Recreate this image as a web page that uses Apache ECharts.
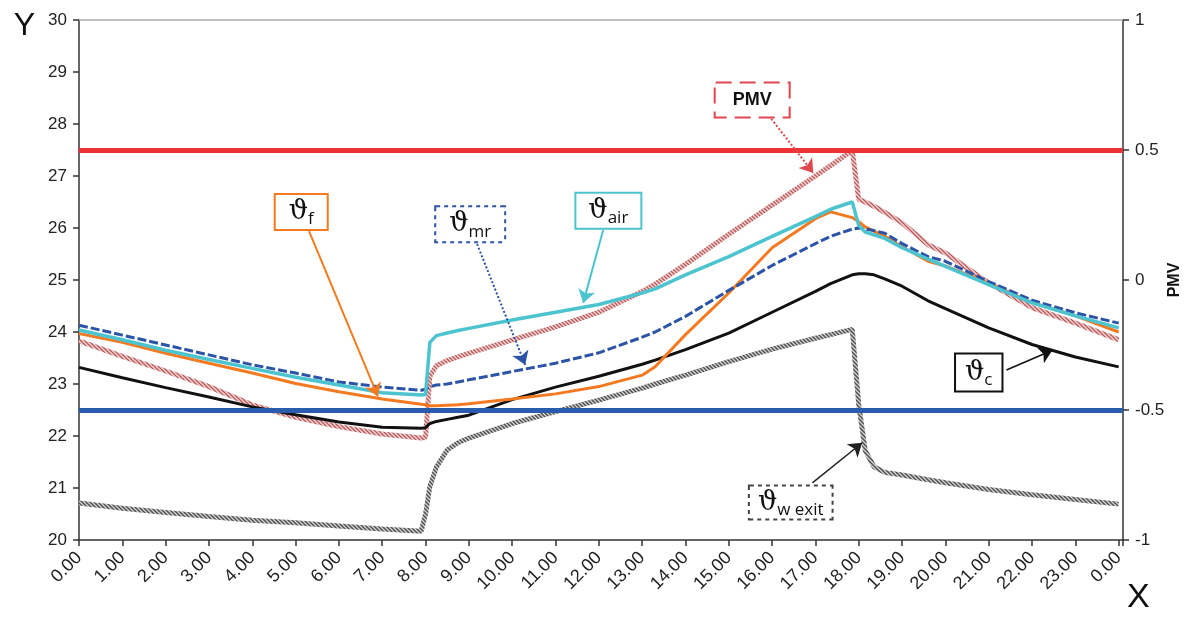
<!DOCTYPE html>
<html>
<head>
<meta charset="utf-8">
<script src="https://cdn.jsdelivr.net/npm/echarts@6/dist/echarts.min.js"></script>
<style>
  html, body { margin: 0; background: #fff; }
  #chart { width: 1190px; height: 619px; }
</style>
</head>
<body>
<div id="chart"></div>
<script>
  // sample times (hours of the day)
  var hours = [0, 1, 2, 3, 4, 5, 6, 7, 7.9, 8.0, 8.1, 8.25, 8.5, 8.75, 9, 10, 11, 12, 13, 13.3, 14, 15, 16, 17,
    17.35, 17.85, 18.0, 18.15, 18.35, 18.6, 19, 19.6, 20, 21, 22, 23, 24];
  var tickLabels = ['0.00', '1.00', '2.00', '3.00', '4.00', '5.00', '6.00', '7.00', '8.00', '9.00', '10.00', '11.00',
    '12.00', '13.00', '14.00', '15.00', '16.00', '17.00', '18.00', '19.00', '20.00', '21.00', '22.00', '23.00', '0.00'];

  var thetaC = [23.32, 23.12, 22.93, 22.75, 22.56, 22.41, 22.27, 22.17, 22.15, 22.16, 22.24, 22.28, 22.32, 22.36, 22.4,
    22.7, 22.94, 23.15, 23.38, 23.46, 23.66, 23.98, 24.38, 24.78, 24.93, 25.1, 25.12, 25.12, 25.1, 25.02, 24.88, 24.6,
    24.45, 24.08, 23.76, 23.52, 23.33];
  var thetaF = [23.97, 23.8, 23.59, 23.4, 23.21, 23.01, 22.85, 22.71, 22.61, 22.6, 22.58, 22.58, 22.59, 22.6, 22.62,
    22.71, 22.81, 22.95, 23.17, 23.33, 23.95, 24.75, 25.62, 26.18, 26.31, 26.2, 26.12, 26.02, 25.94, 25.84, 25.64, 25.36,
    25.27, 24.94, 24.57, 24.31, 24.0];
  var thetaAir = [24.04, 23.85, 23.65, 23.47, 23.3, 23.13, 22.98, 22.83, 22.79, 22.8, 23.8, 23.93, 23.98, 24.03, 24.07,
    24.23, 24.38, 24.53, 24.75, 24.83, 25.1, 25.45, 25.84, 26.22, 26.36, 26.5, 26.05, 25.92, 25.87, 25.8, 25.62, 25.4,
    25.26, 24.91, 24.56, 24.31, 24.08];
  var thetaMr = [24.13, 23.94, 23.75, 23.56, 23.37, 23.21, 23.04, 22.94, 22.88, 22.9, 22.95, 22.98, 23.0, 23.04, 23.08,
    23.24, 23.4, 23.6, 23.9, 24.0, 24.3, 24.8, 25.28, 25.7, 25.84, 25.98, 26.0, 25.98, 25.95, 25.9, 25.7, 25.45,
    25.36, 24.97, 24.61, 24.37, 24.17];
  var thetaWExit = [20.71, 20.61, 20.53, 20.45, 20.38, 20.33, 20.27, 20.21, 20.17, 20.5, 21.03, 21.4, 21.73, 21.87, 21.96,
    22.24, 22.47, 22.69, 22.92, 23.0, 23.17, 23.43, 23.67, 23.88, 23.95, 24.05, 22.6, 21.72, 21.41, 21.3, 21.25, 21.16,
    21.1, 20.97, 20.87, 20.78, 20.69];
  var pmv = [-0.234, -0.294, -0.35, -0.41, -0.48, -0.528, -0.564, -0.592, -0.608, -0.606, -0.37, -0.33, -0.31, -0.296,
    -0.282, -0.23, -0.18, -0.124, -0.044, -0.016, 0.06, 0.176, 0.288, 0.4, 0.44, 0.498, 0.31, 0.3, 0.284, 0.26, 0.22,
    0.136, 0.104, -0.012, -0.106, -0.166, -0.23];
  var pmvLimits = [0.5, -0.5];

  function pairs(vals) {
    return hours.map(function (h, i) { return [h, vals[i]]; });
  }

  // small hatched texture for the two "patterned" lines
  function hatch(base, dark, light) {
    var c = document.createElement('canvas');
    c.width = 4; c.height = 4;
    var g = c.getContext('2d');
    g.fillStyle = base; g.fillRect(0, 0, 4, 4);
    for (var i = 0; i < 4; i++) {
      g.fillStyle = dark; g.fillRect(i, i % 4, 1, 1);
      g.fillStyle = light; g.fillRect(i, (i + 2) % 4, 1, 1);
    }
    return { image: c, repeat: 'repeat' };
  }

  var thetaFont = '"DejaVu Serif", serif';
  var subFont = '"Open Sans", "Noto Sans", sans-serif';

  function theta(sub, padding) {
    return {
      formatter: '{t|ϑ}{s|' + sub + '}',
      padding: padding,
      rich: {
        t: { fontFamily: thetaFont, fontSize: 27, lineHeight: 32, color: '#111' },
        s: { fontFamily: subFont, fontSize: 17, lineHeight: 17, verticalAlign: 'bottom', color: '#111' }
      }
    };
  }

  function callout(coord, text, border, borderType) {
    return {
      coord: coord,
      symbol: 'rect',
      symbolSize: 1,
      itemStyle: { color: 'rgba(0,0,0,0)' },
      label: {
        show: true,
        position: 'inside',
        formatter: text.formatter,
        rich: text.rich,
        padding: text.padding,
        backgroundColor: '#fff',
        borderColor: border,
        borderWidth: 2,
        borderType: borderType
      }
    };
  }

  function arrow(from, to, color, type, width) {
    return [
      { coord: from, symbol: 'none', lineStyle: { color: color, type: type, width: width } },
      { coord: to, symbol: 'arrow', symbolSize: 13 }
    ];
  }

  var chart = echarts.init(document.getElementById('chart'));
  var axisFont = { fontFamily: '"Liberation Sans", Arial, sans-serif', fontSize: 17, color: '#222' };

  chart.setOption({
    animation: false,
    grid: { left: 79, right: 67, top: 20, bottom: 79, outerBoundsMode: 'none' },
    xAxis: [
      {
        type: 'value', min: 0, max: 24.1, interval: 1, position: 'bottom',
        axisLine: { show: true, onZero: false, lineStyle: { color: '#333', width: 1.5 } },
        axisTick: { show: true, length: 6, lineStyle: { color: '#333', width: 1.5 } },
        axisLabel: {
          rotate: 45, margin: 15, fontSize: 18, fontFamily: axisFont.fontFamily, color: axisFont.color,
          formatter: function (v) { return Number.isInteger(v) ? tickLabels[v] : ''; }
        },
        splitLine: { show: false },
        name: 'X', nameLocation: 'end', nameGap: 4, nameMoveOverlap: false,
        nameTextStyle: { fontFamily: axisFont.fontFamily, fontSize: 34, color: '#111', align: 'left',
          verticalAlign: 'top', lineHeight: 116 }
      },
      {
        type: 'value', min: 0, max: 24.1, position: 'top',
        axisLine: { show: true, onZero: false, lineStyle: { color: '#aaa', width: 1.5 } },
        axisTick: { show: false }, axisLabel: { show: false }, splitLine: { show: false }
      }
    ],
    yAxis: [
      {
        type: 'value', min: 20, max: 30, interval: 1, position: 'left',
        axisLine: { show: true, onZero: false, lineStyle: { color: '#333', width: 1.5 } },
        axisTick: { show: true, length: 6, lineStyle: { color: '#333', width: 1.5 } },
        axisLabel: Object.assign({ margin: 12 }, axisFont),
        splitLine: { show: false },
        name: 'Y', nameLocation: 'end', nameGap: -6, nameMoveOverlap: false,
        nameTextStyle: { fontFamily: axisFont.fontFamily, fontSize: 32, color: '#111', align: 'right',
          verticalAlign: 'middle', padding: [0, 44, 0, 0] }
      },
      {
        type: 'value', min: -1, max: 1, interval: 0.5, position: 'right',
        axisLine: { show: true, onZero: false, lineStyle: { color: '#333', width: 1.5 } },
        axisTick: { show: true, length: 6, lineStyle: { color: '#333', width: 1.5 } },
        axisLabel: Object.assign({ margin: 12 }, axisFont),
        splitLine: { show: false },
        name: 'PMV', nameLocation: 'middle', nameRotate: 90, nameGap: 44, nameMoveOverlap: false,
        nameTextStyle: { fontFamily: axisFont.fontFamily, fontSize: 16, fontWeight: 'bold', color: '#111' }
      }
    ],
    series: [
      {
        name: 'ϑw exit', type: 'line', data: pairs(thetaWExit), symbol: 'none', silent: true,
        lineStyle: { width: 5, color: hatch('#8e8e8e', '#4f4f4f', '#d2d2d2') },
        markPoint: { silent: true, data: [callout([16.43, 20.72], theta('w exit', [0, 8, 0, 8]), '#444', 'dotted')] },
        markLine: { silent: true, label: { show: false }, data: [arrow([16.93, 21.1], [18.08, 21.87], '#222', 'solid', 1.5)] }
      },
      {
        name: 'PMV', type: 'line', yAxisIndex: 1, data: pairs(pmv), symbol: 'none', silent: true,
        lineStyle: { width: 5, color: hatch('#dc9a9a', '#b45858', '#f4d6d6') },
        markPoint: {
          silent: true,
          data: [{
            coord: [15.54, 0.692], symbol: 'rect', symbolSize: 1, itemStyle: { color: 'rgba(0,0,0,0)' },
            label: {
              show: true, position: 'inside', formatter: 'PMV', padding: [8, 17, 7, 17],
              fontFamily: axisFont.fontFamily, fontSize: 18, fontWeight: 'bold', color: '#111',
              backgroundColor: '#fff', borderColor: '#e0474c', borderWidth: 2, borderType: 'dashed'
            }
          }]
        },
        markLine: {
          silent: true, label: { show: false }, symbol: 'none',
          data: [
            { yAxis: pmvLimits[0], lineStyle: { color: '#ee3338', width: 5, type: 'solid' } },
            { yAxis: pmvLimits[1], lineStyle: { color: '#2a5cae', width: 5, type: 'solid' } },
            arrow([15.98, 0.62], [16.95, 0.412], '#e0474c', 'dotted', 2)
          ]
        }
      },
      {
        name: 'ϑc', type: 'line', data: pairs(thetaC), symbol: 'none', silent: true,
        lineStyle: { width: 3, color: '#111' },
        markPoint: { silent: true, data: [callout([20.77, 23.22], theta('c', [2, 9, 2, 9]), '#111', 'solid')] },
        markLine: { silent: true, label: { show: false }, data: [arrow([21.41, 23.27], [22.47, 23.65], '#111', 'solid', 1.5)] }
      },
      {
        name: 'ϑf', type: 'line', data: pairs(thetaF), symbol: 'none', silent: true,
        lineStyle: { width: 3, color: '#f47a22' },
        markPoint: { silent: true, data: [callout([5.13, 26.31], theta('f', [1, 13, 1, 13]), '#f47a22', 'solid')] },
        markLine: { silent: true, label: { show: false }, data: [arrow([5.31, 25.94], [6.9, 22.76], '#f47a22', 'solid', 2)] }
      },
      {
        name: 'ϑmr', type: 'line', data: pairs(thetaMr), symbol: 'none', silent: true,
        lineStyle: { width: 3, color: '#2b53a6', type: [9, 3] },
        markPoint: { silent: true, data: [callout([9.03, 26.07], theta('mr', [1, 13, 1, 13]), '#2b53a6', 'dotted')] },
        markLine: { silent: true, label: { show: false }, data: [arrow([9.19, 25.69], [10.3, 23.37], '#2b53a6', 'dotted', 2)] }
      },
      {
        name: 'ϑair', type: 'line', data: pairs(thetaAir), symbol: 'none', silent: true,
        lineStyle: { width: 3.5, color: '#4cc4cf' },
        markPoint: { silent: true, data: [callout([12.22, 26.33], theta('air', [1, 12, 1, 12]), '#4cc4cf', 'solid')] },
        markLine: { silent: true, label: { show: false }, data: [arrow([12.1, 25.96], [11.64, 24.56], '#4cc4cf', 'solid', 2)] }
      }
    ]
  });
</script>
</body>
</html>
